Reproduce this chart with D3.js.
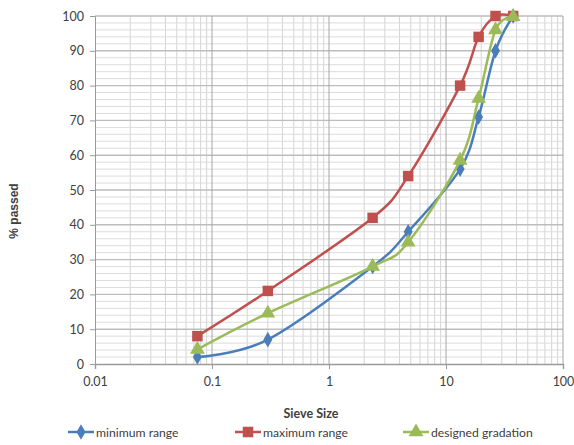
<!DOCTYPE html>
<html>
<head>
<meta charset="utf-8">
<script src="https://cdn.jsdelivr.net/npm/d3@7"></script>
<style>
  html, body { margin: 0; padding: 0; background: #fff; }
  svg { display: block; }
  text { font-family: Lato, "Open Sans", sans-serif; fill: #404040; }
</style>
</head>
<body>
<svg id="chart" width="574" height="445"></svg>
<script>
// Sieve sizes (mm) and percent passing for each gradation curve
const sieveSizes = [0.075, 0.3, 2.36, 4.75, 13.2, 19, 26.5, 37.5];
const minimumRange = [2, 7, 28, 38, 56, 71, 90, 100];
const maximumRange = [8, 21, 42, 54, 80, 94, 100, 100];
const designedGradation = [4.2, 14.6, 28, 35, 58.5, 76.3, 96, 99.8];

const seriesNames = ["minimum range", "maximum range", "designed gradation"];
const seriesColors = ["#4a7ebb", "#c0504d", "#9bbb59"];
const seriesMarkers = ["diamond", "square", "triangle"];

const xTickValues = [0.01, 0.1, 1, 10, 100];
const xTickLabels = ["0.01", "0.1", "1", "10", "100"];
const yTickValues = [0, 10, 20, 30, 40, 50, 60, 70, 80, 90, 100];

const svg = d3.select("#chart");
const margin = { left: 95, right: 11, top: 16, bottom: 81 };
const width = 574, height = 445;

const x = d3.scaleLog().domain([0.01, 100]).range([margin.left, width - margin.right]);
const y = d3.scaleLinear().domain([0, 100]).range([height - margin.bottom, margin.top]);

const grid = svg.append("g");

// minor vertical lines (2..9 within each decade)
const minorX = [];
for (let d = 0.01; d < 100; d *= 10) {
  for (let k = 2; k <= 9; k++) minorX.push(+(d * k).toPrecision(3));
}
grid.selectAll(".vminor").data(minorX).join("line")
  .attr("x1", d => x(d)).attr("x2", d => x(d))
  .attr("y1", y(0)).attr("y2", y(100))
  .attr("stroke", "#d4d4d4").attr("stroke-width", 1);

// minor horizontal lines every 2 %
const minorY = d3.range(2, 100, 2).filter(v => v % 10 !== 0);
grid.selectAll(".hminor").data(minorY).join("line")
  .attr("x1", x(0.01)).attr("x2", x(100))
  .attr("y1", d => y(d)).attr("y2", d => y(d))
  .attr("stroke", "#dcdcdc").attr("stroke-width", 1);

// major horizontal lines
grid.selectAll(".hmajor").data(yTickValues.filter(v => v > 0)).join("line")
  .attr("x1", x(0.01)).attr("x2", x(100))
  .attr("y1", d => y(d)).attr("y2", d => y(d))
  .attr("stroke", "#bdbdbd").attr("stroke-width", 1.4);

// major vertical lines at each decade
grid.selectAll(".vmajor").data(xTickValues.slice(1)).join("line")
  .attr("x1", d => x(d)).attr("x2", d => x(d))
  .attr("y1", y(0)).attr("y2", y(100))
  .attr("stroke", "#a6a6a6").attr("stroke-width", 1);

// axes
const yAxis = d3.axisLeft(y).tickValues(yTickValues).tickSize(5).tickPadding(6);
const gy = svg.append("g").attr("transform", `translate(${x(0.01)},0)`).call(yAxis);
gy.select(".domain").attr("stroke", "#9a9a9a");
gy.selectAll(".tick line").attr("stroke", "#9a9a9a");
gy.selectAll(".tick text").style("font-size", "12.5px").attr("fill", "#404040");

const xAxis = d3.axisBottom(x).tickValues(xTickValues)
  .tickFormat((d, i) => xTickLabels[i]).tickSize(5).tickPadding(8);
const gx = svg.append("g").attr("transform", `translate(0,${y(0)})`).call(xAxis);
gx.select(".domain").attr("stroke", "#9a9a9a").attr("stroke-width", 1.4);
gx.selectAll(".tick line").attr("stroke", "#9a9a9a");
gx.selectAll(".tick text").style("font-size", "12.5px").attr("fill", "#404040");

// axis titles
svg.append("text")
  .attr("transform", `translate(18,${(y(0) + y(100)) / 2 + 21}) rotate(-90)`)
  .attr("text-anchor", "middle")
  .style("font-family", "'Liberation Sans', Arial, sans-serif")
  .style("font-size", "12px").style("font-weight", "bold").attr("fill", "#000")
  .text("% passed");

svg.append("text")
  .attr("x", 311).attr("y", 418)
  .attr("text-anchor", "middle")
  .style("font-size", "12.5px").style("font-weight", "bold").attr("fill", "#000")
  .text("Sieve Size");

// marker shapes
function markerPath(kind) {
  if (kind === "diamond") return d3.symbol(d3.symbolDiamond, 70)();
  if (kind === "square") return d3.symbol(d3.symbolSquare, 110)();
  return d3.symbol(d3.symbolTriangle, 95)();
}

const allSeries = [minimumRange, maximumRange, designedGradation];
const line = d3.line()
  .x((d, i) => x(sieveSizes[i]))
  .y(d => y(d))
  .curve(d3.curveCatmullRom.alpha(0));

allSeries.forEach((vals, s) => {
  const g = svg.append("g");
  g.append("path").datum(vals)
    .attr("d", line)
    .attr("fill", "none")
    .attr("stroke", seriesColors[s])
    .attr("stroke-width", 2.5);
  g.selectAll("path.mk").data(vals).join("path")
    .attr("class", "mk")
    .attr("transform", (d, i) => `translate(${x(sieveSizes[i])},${y(d)})`)
    .attr("d", markerPath(seriesMarkers[s]))
    .attr("fill", seriesColors[s]);
});

// legend
const legendX = [68, 235, 403];
const legend = svg.append("g");
seriesNames.forEach((name, s) => {
  const lx = legendX[s], ly = 432;
  legend.append("line")
    .attr("x1", lx).attr("x2", lx + 26).attr("y1", ly).attr("y2", ly)
    .attr("stroke", seriesColors[s]).attr("stroke-width", 2.5);
  legend.append("path")
    .attr("transform", `translate(${lx + 13},${ly})`)
    .attr("d", markerPath(seriesMarkers[s]))
    .attr("fill", seriesColors[s]);
  legend.append("text")
    .attr("x", lx + 28).attr("y", ly + 5)
    .style("font-size", "12.2px").attr("fill", "#404040")
    .text(name);
});
</script>
</body>
</html>
